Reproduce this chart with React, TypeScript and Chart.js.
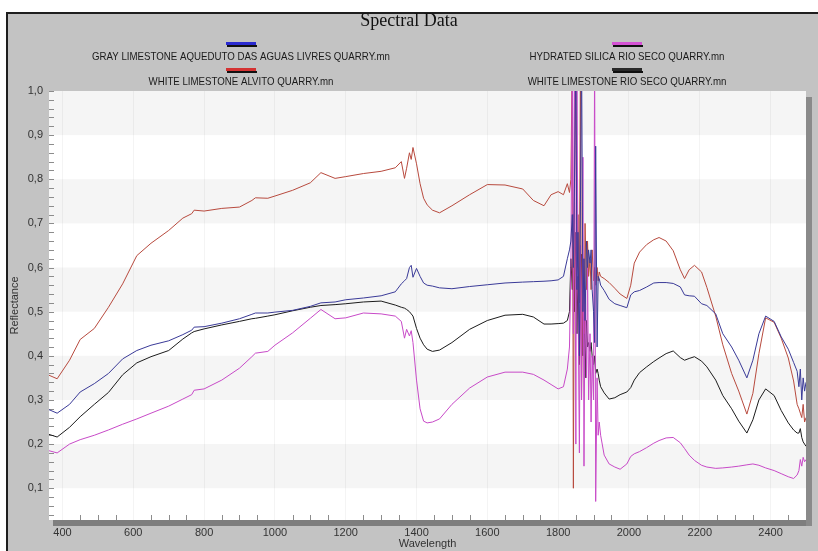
import { useEffect, useRef } from "react";
import { Chart, registerables } from "chart.js";

Chart.register(...registerables);

// Sampled wavelengths (nm); denser where spectra have sharp features.
const wavelengths = [
  362, 385, 420, 450, 490, 530, 570, 610, 650, 700,
  740, 765, 772, 800, 850, 900, 935, 945, 980, 1000,
  1050, 1100, 1130, 1170, 1200, 1250, 1300, 1340, 1357, 1366,
  1372, 1380, 1385, 1390, 1400, 1410, 1420, 1430, 1445, 1465,
  1500, 1550, 1600, 1650, 1700, 1730, 1760, 1780, 1800, 1815,
  1826, 1832,
  1836, 1840, 1843, 1846, 1850, 1853, 1856, 1860, 1863, 1866,
  1870, 1873, 1876, 1880, 1883, 1886, 1890, 1893, 1896, 1900,
  1903, 1906, 1910, 1913, 1916, 1920,
  1930, 1944, 1960, 1975, 1994, 2005, 2015, 2030, 2050, 2070,
  2085, 2105, 2125, 2145, 2157, 2170, 2185, 2205, 2220, 2245,
  2265, 2290, 2310, 2333, 2350, 2367, 2386, 2410, 2430, 2450,
  2465, 2475, 2480, 2484, 2488, 2492, 2496, 2500,
];

const grayLimestoneAqueduto = [
  0.278, 0.27, 0.29, 0.318, 0.337, 0.36, 0.393, 0.412, 0.424, 0.434,
  0.448, 0.458, 0.465, 0.466, 0.474, 0.484, 0.494, 0.497, 0.497, 0.499,
  0.503, 0.512, 0.52, 0.522, 0.527, 0.531, 0.536, 0.545, 0.563, 0.57,
  0.575, 0.6, 0.605, 0.578, 0.598, 0.58, 0.565, 0.56, 0.558, 0.554,
  0.552, 0.557, 0.561, 0.565, 0.567, 0.568, 0.569, 0.57, 0.572, 0.58,
  0.62, 0.64,
  0.66, 0.72, 0.6, 0.78, 1.1, 0.55, 0.68, 0.4, 0.75, 1.1,
  0.5, 0.62, 0.48, 0.66, 0.6, 0.64, 0.61, 0.64, 0.55, 0.5,
  0.43, 0.875, 0.42, 0.58, 0.575, 0.56,
  0.548, 0.528, 0.518, 0.514, 0.509, 0.538, 0.545, 0.548, 0.556, 0.565,
  0.566, 0.566, 0.564, 0.556, 0.538, 0.536, 0.535, 0.518, 0.514, 0.495,
  0.45, 0.42, 0.39, 0.35, 0.39, 0.45, 0.49, 0.478, 0.443, 0.415,
  0.385, 0.365, 0.33, 0.37, 0.3, 0.35, 0.32, 0.34,
];

const hydratedSilicaRioSeco = [
  0.185, 0.18, 0.2, 0.21, 0.22, 0.232, 0.245, 0.257, 0.27, 0.286,
  0.302, 0.312, 0.322, 0.325, 0.345, 0.372, 0.398, 0.406, 0.41, 0.424,
  0.452, 0.485, 0.505, 0.484, 0.486, 0.497, 0.495, 0.49, 0.478, 0.44,
  0.46, 0.445, 0.457, 0.43, 0.345, 0.28, 0.252, 0.248, 0.25, 0.257,
  0.29, 0.327, 0.352, 0.363, 0.363, 0.358, 0.345, 0.335, 0.325, 0.33,
  0.37, 0.42,
  0.6, 1.1, 0.45, 1.1, 0.2, 1.1, 0.55, 0.18, 0.65, 0.3,
  0.85, 0.15, 0.55, 0.35, 0.6, 0.3, 0.45, 0.25, 0.4, 0.3,
  1.1, 0.07, 0.35, 0.22, 0.25, 0.22,
  0.175, 0.155, 0.148, 0.143, 0.155, 0.172, 0.178, 0.183, 0.192, 0.202,
  0.208, 0.214, 0.215, 0.203, 0.19, 0.175, 0.163, 0.152, 0.148, 0.145,
  0.146, 0.148, 0.15, 0.153, 0.155, 0.152, 0.146, 0.14, 0.133, 0.126,
  0.122, 0.13, 0.14, 0.165, 0.15, 0.17, 0.16, 0.165,
];

const whiteLimestoneAlvito = [
  0.356, 0.348, 0.39, 0.437, 0.462, 0.51, 0.563, 0.627, 0.655, 0.684,
  0.712, 0.722, 0.73, 0.728, 0.734, 0.737, 0.752, 0.758, 0.757, 0.762,
  0.775, 0.792, 0.815, 0.802, 0.806, 0.813, 0.818, 0.826, 0.84, 0.802,
  0.825, 0.86, 0.845, 0.872, 0.835, 0.79, 0.757, 0.742, 0.73, 0.724,
  0.74, 0.765, 0.788, 0.787, 0.778, 0.752, 0.74, 0.765, 0.772, 0.765,
  0.79, 0.77,
  0.8, 1.1, 0.1, 0.75, 1.1, 0.6, 0.72, 0.52, 1.1, 0.3,
  0.62, 0.45, 0.7, 0.55, 0.66, 0.58, 0.62, 0.55, 0.64, 0.57,
  0.6, 0.56, 0.6, 0.57, 0.59, 0.58,
  0.575, 0.566, 0.553, 0.54, 0.53, 0.56, 0.61, 0.635, 0.652, 0.663,
  0.668, 0.66, 0.638, 0.595, 0.575, 0.595, 0.605, 0.59, 0.555, 0.49,
  0.425, 0.36, 0.32, 0.268, 0.315, 0.405, 0.486, 0.476, 0.44, 0.395,
  0.343, 0.29, 0.28, 0.27, 0.26, 0.29, 0.25, 0.26,
];

const whiteLimestoneRioSeco = [
  0.222, 0.216, 0.238, 0.262, 0.29, 0.317, 0.357, 0.384, 0.398, 0.412,
  0.438, 0.452, 0.455, 0.461, 0.47, 0.478, 0.484, 0.485, 0.49, 0.493,
  0.502, 0.51, 0.514, 0.516, 0.518, 0.522, 0.524, 0.515, 0.51, 0.508,
  0.505, 0.5, 0.495, 0.49, 0.462, 0.44, 0.425, 0.415, 0.41, 0.413,
  0.43, 0.46, 0.48, 0.492, 0.494, 0.488, 0.472, 0.472, 0.473, 0.474,
  0.48, 0.5,
  0.62, 0.55, 0.72, 0.5, 0.68, 0.45, 0.58, 0.38, 0.52, 0.63,
  0.4, 0.58, 0.35, 0.48, 0.42, 0.43, 0.41, 0.43, 0.4, 0.38,
  0.4, 0.36, 0.37, 0.36, 0.345, 0.33,
  0.316, 0.302, 0.305, 0.312, 0.318, 0.328, 0.345, 0.362, 0.375, 0.387,
  0.395, 0.405, 0.411, 0.396, 0.39, 0.394, 0.398, 0.388, 0.375, 0.345,
  0.31, 0.28, 0.252, 0.225, 0.255, 0.3, 0.325, 0.31, 0.276, 0.248,
  0.232, 0.225, 0.225, 0.235, 0.215, 0.205, 0.2, 0.195,
];

const seriesLabels = [
  "GRAY LIMESTONE AQUEDUTO DAS AGUAS LIVRES QUARRY.mn",
  "HYDRATED SILICA RIO SECO QUARRY.mn",
  "WHITE LIMESTONE ALVITO QUARRY.mn",
  "WHITE LIMESTONE RIO SECO QUARRY.mn",
];
const seriesValues = [
  grayLimestoneAqueduto,
  hydratedSilicaRioSeco,
  whiteLimestoneAlvito,
  whiteLimestoneRioSeco,
];
const lineColors = ["#3a3a98", "#c84ac8", "#b84a3e", "#1c1c1c"];
const swatchColors = ["#2a2ad0", "#d452d4", "#d43232", "#2a2a2a"];

const chartTitle = "Spectral Data";
const xAxisTitle = "Wavelength";
const yAxisTitle = "Reflectance";
const xMin = 362;
const xMax = 2500;
const yMin = 0.028;
const yMax = 1.0;

const W = 818;
const H = 551;
const FONT = "'Liberation Sans', Arial, sans-serif";

// Window frame, banded plot background and the raised-panel shadow.
const framePlugin = {
  id: "frame",
  beforeDraw(chart: any) {
    const { ctx, chartArea: a, scales } = chart;
    const y = scales.y;
    ctx.save();
    ctx.fillStyle = "#ffffff";
    ctx.fillRect(0, 0, W, H);
    ctx.fillStyle = "#c3c3c3";
    ctx.fillRect(7, 13, W - 7, H - 13);
    ctx.fillStyle = "#1e1e1e";
    ctx.fillRect(6, 12, W - 6, 2);
    ctx.fillRect(6, 12, 2, H - 12);

    // shadow bars under and to the right of the plot panel
    ctx.fillStyle = "#7e7e7e";
    ctx.fillRect(a.left + 4, a.bottom, a.right - a.left + 2, 6);
    ctx.fillStyle = "#8a8a8a";
    ctx.fillRect(a.right, a.top + 6, 6, a.bottom - a.top);

    ctx.fillStyle = "#ffffff";
    ctx.fillRect(a.left, a.top, a.right - a.left, a.bottom - a.top);
    ctx.fillStyle = "#f5f5f5";
    for (let v = 0.1; v < yMax; v += 0.2) {
      const top = y.getPixelForValue(Math.min(v + 0.1, yMax));
      const bottom = y.getPixelForValue(v);
      ctx.fillRect(a.left, top, a.right - a.left, bottom - top);
    }
    ctx.restore();
  },
  beforeDatasetsDraw(chart: any) {
    const { ctx, chartArea: a, scales } = chart;
    ctx.save();
    ctx.strokeStyle = "#8c8c8c";
    ctx.lineWidth = 1;
    ctx.beginPath();
    for (let w = 400; w <= xMax; w += 50) {
      if (w % 200 === 0) continue;
      const px = Math.round(scales.x.getPixelForValue(w)) + 0.5;
      ctx.moveTo(px, a.bottom);
      ctx.lineTo(px, a.bottom - 5);
    }
    for (let i = 2; i <= 50; i++) {
      const v = i * 0.02;
      const py = Math.round(scales.y.getPixelForValue(v)) + 0.5;
      ctx.moveTo(a.left, py);
      ctx.lineTo(a.left + 5, py);
    }
    ctx.stroke();
    ctx.restore();
  },
  afterDraw(chart: any) {
    const { ctx } = chart;
    ctx.save();
    ctx.fillStyle = "#111111";
    ctx.font = "18px 'Liberation Serif', 'Times New Roman', serif";
    ctx.textAlign = "center";
    ctx.textBaseline = "middle";
    ctx.fillText(chartTitle, 409, 21);

    // two-column legend: swatch above each label, labels drawn condensed
    ctx.font = "11px " + FONT;
    const squeeze = 298 / ctx.measureText(seriesLabels[0]).width;
    chart.data.datasets.forEach((ds: any, i: number) => {
      const col = i % 2;
      const row = Math.floor(i / 2);
      const cx = col === 0 ? 241 : 627;
      const sy = 43 + row * 26;
      ctx.fillStyle = "#101010";
      ctx.fillRect(cx - 14, sy + 2, 30, 2);
      ctx.fillStyle = swatchColors[i];
      ctx.fillRect(cx - 15, sy - 1, 30, 3);
      ctx.save();
      ctx.translate(cx, 57 + row * 25);
      ctx.scale(squeeze, 1);
      ctx.fillStyle = "#1a1a1a";
      ctx.fillText(ds.label, 0, 0);
      ctx.restore();
    });
    ctx.restore();
  },
};

export default function App() {
  const canvasRef = useRef<HTMLCanvasElement | null>(null);

  useEffect(() => {
    if (!canvasRef.current) return;
    Chart.defaults.font.family = FONT;
    const chart = new Chart(canvasRef.current, {
      type: "line",
      data: {
        datasets: seriesLabels.map((label, i) => ({
          label,
          data: wavelengths.map((w, k) => ({ x: w, y: seriesValues[i][k] })),
          borderColor: lineColors[i],
          backgroundColor: lineColors[i],
          borderWidth: 1,
          pointRadius: 0,
          tension: 0,
          fill: false,
        })),
      },
      options: {
        animation: false,
        responsive: false,
        maintainAspectRatio: false,
        devicePixelRatio: 1,
        layout: { padding: { top: 91, right: 12, left: 0, bottom: 0 } },
        plugins: {
          legend: { display: false },
          title: { display: false },
          tooltip: { enabled: false },
        },
        scales: {
          x: {
            type: "linear",
            min: xMin,
            max: xMax,
            afterFit: (s: any) => {
              s.height = 31;
            },
            border: { display: false },
            grid: { color: "rgba(0,0,0,0.045)", drawTicks: false },
            ticks: {
              stepSize: 200,
              includeBounds: false,
              padding: 6,
              maxRotation: 0,
              autoSkip: false,
              color: "#333333",
              font: { size: 11 },
              callback: (v: any) => String(v),
            },
            title: {
              display: true,
              text: xAxisTitle,
              color: "#333333",
              font: { size: 11 },
              padding: { top: 0, bottom: 0 },
            },
          },
          y: {
            type: "linear",
            min: yMin,
            max: yMax,
            afterFit: (s: any) => {
              s.width = 49;
            },
            border: { display: false },
            grid: { display: false, drawTicks: false },
            ticks: {
              stepSize: 0.1,
              includeBounds: false,
              padding: 6,
              color: "#333333",
              font: { size: 11 },
              callback: (v: any) => Number(v).toFixed(1).replace(".", ","),
            },
            title: {
              display: true,
              text: yAxisTitle,
              color: "#333333",
              font: { size: 11 },
              padding: { top: 8, bottom: 0 },
            },
          },
        },
      } as any,
      plugins: [framePlugin],
    });
    return () => chart.destroy();
  }, []);

  return (
    <div style={{ position: "absolute", left: 0, top: 0, width: W, height: H }}>
      <canvas ref={canvasRef} width={W} height={H} style={{ display: "block", width: W, height: H }} />
    </div>
  );
}
